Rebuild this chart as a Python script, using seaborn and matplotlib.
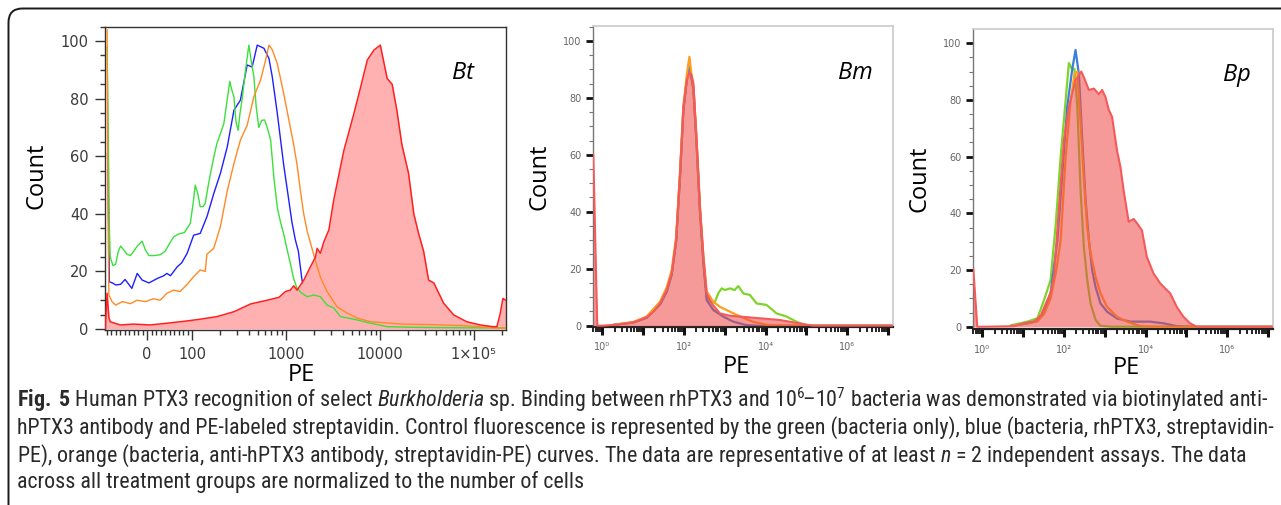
import numpy as np
import matplotlib
matplotlib.use("Agg")
import matplotlib.pyplot as plt
import seaborn as sns
from matplotlib import font_manager as fm
from matplotlib.patches import FancyBboxPatch
from matplotlib.transforms import IdentityTransform
from matplotlib.ticker import FixedLocator, MultipleLocator, NullFormatter, LogLocator

# ---------------- data (PE value, count) ----------------
# Bt panel (biexponential-like axis)
bt_green_pe = [-89, -87, -84, -82, -76, -70, -64, -59, -52, -45, -37, -30, -21, -11, -4, 4, 16, 29, 40, 51,
               59, 70, 83, 96, 103, 108, 115, 122, 131, 138, 147, 157, 171, 184, 201, 218, 235, 252, 265, 279,
               293, 309, 324, 340, 371, 402, 427, 455, 482, 513, 552, 594, 644, 686, 746, 810, 876, 945, 1021, 1112,
               1206, 1312, 1466, 1680, 1978, 2323, 2735, 3220, 3800, 5290, 7960, 11950, 21900, 37300, 85000, 219000]
bt_green_count = [98, 76, 35, 25, 22, 22.5, 27, 28.8, 27.5, 26, 25.5, 27, 29, 30.5, 27.5, 25.5, 25.5, 25.8, 27, 30,
                  32, 33, 33.5, 36.7, 44, 50, 47, 42.5, 42.5, 43.6, 49, 54, 60, 64.5, 68, 71.4, 79, 86, 83, 80.7,
                  72, 69, 75, 79.5, 90, 98.6, 93, 87.6, 77, 70, 72.5, 72.6, 69, 65.6, 52, 42, 37, 33, 28, 22.8,
                  17.5, 14.1, 12.5, 11.2, 11.8, 11.2, 8.3, 7.3, 4.3, 3.4, 2, 0.8, 0.6, 0.5, 0.4, 0.4]

bt_blue_pe = [-88, -86, -84, -77, -70, -59, -49, -34, -22, -11, 4, 22, 37, 44, 52, 67, 77, 89, 104, 122,
              144, 170, 200, 237, 279, 327, 386, 436, 494, 582, 658, 714, 807, 945, 1068, 1158, 1257, 1354, 1480, 1606,
              1978, 2980, 7290, 37300, 219000]
bt_blue_count = [61, 44, 16.4, 16, 15.3, 15.5, 17.2, 14.1, 19.3, 17, 16, 17.5, 18.5, 19.3, 18.5, 21.6, 23, 26.3, 32.6, 33.2,
                 39, 47, 54, 63.3, 76, 79.5, 91.7, 91, 98.6, 97.5, 94, 87.6, 75, 57, 45, 37, 31, 27, 17, 12,
                 7, 3.5, 1.5, 0.7, 0.5]

bt_orange_pe = [-89, -87, -85, -78, -70, -55, -37, -22, -4, 14, 29, 44, 59, 73, 89, 104, 122, 138, 144, 170,
                200, 237, 279, 327, 386, 455, 536, 607, 658, 714, 807, 945, 1112, 1208, 1312, 1424, 1543, 1680, 1978, 2323,
                2735, 3500, 4475, 5730, 7960, 17500, 37400, 84200, 176000, 219000]
bt_orange_count = [104, 40, 11.8, 9.5, 8.3, 9.5, 8.8, 10, 9.5, 10.5, 10, 12.4, 13.5, 13, 15.5, 18.2, 20.5, 20, 26, 28,
                   35.5, 48, 57.5, 65.6, 70.8, 80.7, 86.5, 93.4, 98.6, 97, 92.2, 81.8, 70, 64, 57, 48, 40, 34, 25.7, 18,
                   13, 7.7, 5.5, 3.8, 2.5, 1.7, 1.5, 1.1, 0.3, 0.3]

bt_red_pe = [-93, -89, -85, -82, -59, -30, 7, 44, 89, 122, 184, 279, 420, 632, 842, 985, 1112, 1208, 1312, 1548,
             1820, 2062, 2143, 2323, 2530, 2860, 3230, 4130, 5290, 6240, 7340, 8650, 10100, 11950, 13500, 15150, 17150,
             20200, 22950, 25900, 29200, 33000, 37500, 47600, 61000, 84200, 117000, 160000, 176000, 191000, 204000, 220000]
bt_red_count = [0, 12.4, 4, 2.5, 1.4, 1.7, 1.4, 2, 2.8, 3.4, 4.3, 6, 8.7, 10, 11, 13, 13.5, 15, 13.5, 17,
                21.6, 25, 28, 26.3, 30.3, 34.4, 45, 62, 74.9, 84.1, 93.4, 96.9, 98.6, 87, 85, 76, 64,
                54, 40, 33, 27, 17, 16, 9, 4.9, 2.5, 1.4, 0.8, 0.8, 5.4, 10.6, 10]

# Bm panel (log axis)
bm_green_pe = [1.9, 5.7, 12.2, 26, 37.8, 50, 64, 80, 96.6, 117, 136, 153, 170, 205, 247, 300, 360, 434, 560, 700,
               840, 1010, 1340, 1730, 2150, 2860, 4120, 6020, 10500, 18600, 32600, 57000, 100000, 1.3e7]
bm_green_count = [0.3, 1.1, 2.8, 7.5, 12, 18, 29.5, 52.5, 75.5, 86, 90, 86.5, 83, 63, 40, 22, 10, 8.4, 8, 11.5,
                  13.1, 12.5, 13.1, 12.5, 13.9, 11.3, 10.8, 7.8, 7.3, 4.3, 3.2, 1.4, 0, 0]
bm_blue_pe = [1.9, 5.7, 12.2, 26, 37.8, 50, 64, 80, 96.6, 117, 136, 153, 170, 205, 247, 300, 360, 523, 918, 1615,
              3425, 6000, 1.3e7]
bm_blue_count = [0.3, 1.1, 2.8, 7.5, 12, 18, 29.5, 52.5, 75.5, 86.5, 91, 87, 83.5, 63, 40, 22, 9, 5.5, 3.2, 1.4,
                 0.2, 0, 0]
bm_orange_pe = [1.9, 5.7, 12.2, 26, 37.8, 50, 64, 80, 96.6, 117, 136, 153, 170, 205, 247, 300, 360, 525, 765, 1340,
                2400, 4800, 10500, 26600, 1.3e7]
bm_orange_count = [0.3, 1.3, 3.2, 8.5, 13.5, 19.5, 31, 54, 77, 88, 94.4, 88, 84, 64, 41, 24, 12, 8.4, 6.6, 4.9,
                   3.2, 1.4, 0.3, 0, 0]
bm_red_pe = [0.6, 0.75, 1.0, 1.9, 2.7, 5.7, 8.4, 12.2, 17.8, 26, 37.8, 50, 64, 80, 96.6, 117, 136, 153, 170, 205,
             247, 300, 360, 476, 765, 1330, 2350, 7300, 22200, 68000, 146000, 1.3e7]
bm_red_count = [60, 0, 0, 0.3, 0.5, 1.2, 2, 3, 4.9, 7.8, 12.5, 18.4, 30, 53.5, 76.8, 86, 89, 88, 85, 65,
                41.8, 24.2, 11.3, 7.8, 4.3, 3.5, 3.2, 2.6, 2, 0.8, 0, 0]

# Bp panel (log axis)
bp_green_pe = [5, 12.7, 22.3, 32.5, 47, 63, 83, 110, 132, 160, 180, 212, 255, 307, 371, 448, 594, 785, 1500, 1.3e7]
bp_green_count = [0.5, 1.8, 3, 9.4, 16.5, 36.5, 60, 80, 93, 90.6, 91, 77.6, 48, 28, 16.5, 8.2, 2.4, 0.3, 0, 0]
bp_blue_pe = [5, 12.7, 22.3, 32.5, 47, 69, 91, 120, 160, 192, 232, 280, 338, 407, 490, 594, 785, 1140, 2000, 4220,
              13000, 27500, 58000, 123000, 1.3e7]
bp_blue_count = [0.3, 1.2, 2, 5, 12, 30.6, 54, 77.6, 91, 97.6, 89, 66, 44.7, 30.6, 20, 14, 8.2, 5.3, 2.9, 1.8,
                 1.8, 1.2, 0.2, 0, 0]
bp_orange_pe = [5, 12.7, 22.3, 32.5, 47, 65, 83, 110, 146, 182, 212, 255, 307, 371, 448, 594, 785, 1140, 2000, 3500,
                7400, 15000, 1.3e7]
bp_orange_count = [0.3, 1.2, 2, 4.5, 10, 20, 30.6, 60, 80, 89.4, 90, 72, 52, 35, 26, 17.6, 11.8, 7, 3.5, 1.8,
                   0.2, 0, 0]
bp_red_pe = [0.6, 0.75, 1.0, 6, 10.6, 12.7, 18.5, 27, 39, 47, 57, 75, 100, 132, 192, 265, 307, 407, 540, 714,
             860, 1040, 1250, 1510, 2000, 2410, 2900, 3850, 5110, 6170, 8120, 10700, 15600, 22800, 30200, 40000,
             58000, 84700, 123000, 179000, 1.3e7]
bp_red_count = [20.5, 0, 0, 0.2, 1.2, 1.5, 1.8, 4, 9.4, 12, 18, 42, 66, 77.6, 87, 90, 88, 83.5, 84, 82,
                83.5, 81, 76.5, 74, 62, 56.5, 48, 37, 38, 36.5, 34, 24.7, 18.8, 15.3, 13.5, 11.8,
                7, 3.5, 1.2, 0, 0]

bt_xticks = [0, 100, 1000, 10000, 100000]
bt_xticklabels = ["0", "100", "1000", "10000", "1×10⁵"]
log_xticks = [1e0, 1e1, 1e2, 1e3, 1e4, 1e5, 1e6, 1e7]
log_xticklabels = ["10⁰", "", "10²", "", "10⁴", "", "10⁶", ""]
y_ticks = [0, 20, 40, 60, 80, 100]
panel_names = ["Bt", "Bm", "Bp"]

caption_lines = [
    r"$\mathbf{Fig.}$ $\mathbf{5}$ Human PTX3 recognition of select $\mathit{Burkholderia}$ sp. Binding between rhPTX3 and 10$^{6}\!$–10$^{7}$ bacteria was demonstrated via biotinylated anti-",
    "hPTX3 antibody and PE-labeled streptavidin. Control fluorescence is represented by the green (bacteria only), blue (bacteria, rhPTX3, streptavidin-",
    r"PE), orange (bacteria, anti-hPTX3 antibody, streptavidin-PE) curves. The data are representative of at least $\mathit{n}$ = 2 independent assays. The data",
    "across all treatment groups are normalized to the number of cells",
]

# ---------------- style ----------------
sns.set_theme(style="white")
avail = {f.name for f in fm.fontManager.ttflist}
cap_font = next((f for f in ["Liberation Sans Narrow", "Roboto Condensed", "Open Sans Condensed",
                             "Noto Sans", "Open Sans"] if f in avail), "DejaVu Sans")
label_font = "Open Sans" if "Open Sans" in avail else "DejaVu Sans"
plt.rcParams["font.family"] = ["DejaVu Sans"]
plt.rcParams["mathtext.fontset"] = "custom"
plt.rcParams["mathtext.rm"] = cap_font
plt.rcParams["mathtext.it"] = cap_font + ":italic"
plt.rcParams["mathtext.bf"] = cap_font + ":bold"
plt.rcParams["mathtext.default"] = "regular"

W, H = 1281, 505
fig = plt.figure(figsize=(W / 100, H / 100), dpi=100)
fig.patch.set_facecolor("white")


def add_ax(l, t, r, b):
    return fig.add_axes([l / W, 1 - b / H, (r - l) / W, (b - t) / H])


# ---------------- Bt ----------------
ax = add_ax(105.3, 26.7, 506, 330)
ax.set_xscale("symlog", linthresh=100, linscale=0.4309)
sns.lineplot(x=bt_blue_pe, y=bt_blue_count, ax=ax, color="#1f1fff", lw=1.0, estimator=None, sort=False, zorder=1.5)
ax.fill_between(bt_red_pe, bt_red_count, 0, color="#ffb0b0", lw=0, zorder=2)
sns.lineplot(x=bt_green_pe, y=bt_green_count, ax=ax, color="#3be03b", lw=1.0, estimator=None, sort=False, zorder=3)
sns.lineplot(x=bt_orange_pe, y=bt_orange_count, ax=ax, color="#ff8a24", lw=1.0, estimator=None, sort=False, zorder=3)
sns.lineplot(x=bt_red_pe, y=bt_red_count, ax=ax, color="#ff1f1f", lw=1.1, estimator=None, sort=False, zorder=4)
ax.set_xlim(-93, 2.2e5)
ax.set_ylim(-0.35, 105)
ax.set_yticks(y_ticks)
ax.yaxis.set_minor_locator(MultipleLocator(5))
ax.set_xticks(bt_xticks)
ax.set_xticklabels(bt_xticklabels)
bt_minor = ([-90, -80, -70, -60, -50, -40, -30, -20, -10, 10, 20, 30, 40, 50, 60, 70, 80, 90]
            + [m * d for d in (100, 1000, 10000) for m in range(2, 10)] + [200000])
ax.xaxis.set_minor_locator(FixedLocator(bt_minor))
ax.xaxis.set_minor_formatter(NullFormatter())
ax.tick_params(axis="both", which="major", direction="out", length=7, width=1, color="#333333",
               labelsize=10.5, labelcolor="#3a3a3a", pad=5, left=True, bottom=True)
ax.tick_params(axis="both", which="minor", direction="out", length=3.5, width=1, color="#333333",
               left=True, bottom=True)
for s in ax.spines.values():
    s.set_color("#333333")
    s.set_linewidth(1.0)
ax.set_ylabel("Count", fontsize=17, family=label_font, va="center", ha="center", color="black")
ax.yaxis.set_label_coords(-0.172, 0.508)
ax.set_xlabel("PE", fontsize=17, family=label_font, va="center", ha="center", color="black")
ax.xaxis.set_label_coords(0.488, -0.148)
ax.text(0.893, 0.847, panel_names[0], transform=ax.transAxes, fontsize=17, family=label_font,
        style="italic", ha="center", va="center", color="black")


# ---------------- Bm / Bp ----------------
def log_panel(box, ylim, green, blue, orange, red, name, name_pos, ylab_pos, xlab_pos):
    ax = add_ax(*box)
    ax.set_xscale("log")
    for (xs, ys), col in zip([green, blue, orange], ["#7fd42a", "#3a7fd8", "#ff9d1f"]):
        sns.lineplot(x=xs, y=ys, ax=ax, color=col, lw=1.6, estimator=None, sort=False, zorder=2)
    ax.fill_between(red[0], red[1], 0, color="#f04646", alpha=0.55, lw=0, zorder=3)
    sns.lineplot(x=red[0], y=red[1], ax=ax, color="#f45a5a", lw=1.5, estimator=None, sort=False, zorder=4)
    ax.set_xlim(0.58, 1.3e7)
    ax.set_ylim(*ylim)
    ax.set_yticks(y_ticks)
    ax.yaxis.set_minor_locator(MultipleLocator(5))
    ax.xaxis.set_major_locator(FixedLocator(log_xticks))
    ax.set_xticklabels(log_xticklabels)
    ax.xaxis.set_minor_locator(LogLocator(base=10, subs=(2, 3, 4, 5, 6, 7, 8, 9), numticks=100))
    ax.xaxis.set_minor_formatter(NullFormatter())
    ax.tick_params(axis="y", which="major", direction="out", length=5, width=2, color="#111111",
                   labelsize=7, labelcolor="#666666", pad=3, left=True)
    ax.tick_params(axis="y", which="minor", direction="out", length=3, width=0.8, color="#777777", left=True)
    ax.tick_params(axis="x", which="major", direction="out", length=6, width=2.2, color="#111111",
                   labelsize=7, labelcolor="#666666", pad=5, bottom=True)
    ax.tick_params(axis="x", which="minor", direction="out", length=3.5, width=1.3, color="#111111", bottom=True)
    ax.spines["top"].set_color("#cccccc")
    ax.spines["right"].set_color("#cccccc")
    ax.spines["left"].set_color("#777777")
    ax.spines["bottom"].set_color("#222222")
    ax.spines["bottom"].set_linewidth(1.6)
    ax.spines["left"].set_linewidth(1.0)
    ax.set_ylabel("Count", fontsize=17, family=label_font, va="center", ha="center", color="black")
    ax.yaxis.set_label_coords(*ylab_pos)
    ax.set_xlabel("PE", fontsize=17, family=label_font, va="center", ha="center", color="black")
    ax.xaxis.set_label_coords(*xlab_pos)
    ax.text(*name_pos, name, transform=ax.transAxes, fontsize=17, family=label_font,
            style="italic", ha="center", va="center", color="black")
    return ax


log_panel((592.7, 26, 892.7, 327), (-0.46, 105.2),
          (bm_green_pe, bm_green_count), (bm_blue_pe, bm_blue_count), (bm_orange_pe, bm_orange_count),
          (bm_red_pe, bm_red_count), panel_names[1], (0.874, 0.844), (-0.176, 0.498), (0.48, -0.132))
log_panel((972.7, 29.3, 1272.7, 329.3), (-0.9, 104.9),
          (bp_green_pe, bp_green_count), (bp_blue_pe, bp_blue_count), (bp_orange_pe, bp_orange_count),
          (bp_red_pe, bp_red_count), panel_names[2], (0.881, 0.848), (-0.178, 0.501), (0.513, -0.13))

# ---------------- caption ----------------
line_y = [400, 428, 456, 482]
texts = []
for s, yy in zip(caption_lines, line_y):
    t = fig.text(17 / W, 1 - yy / H, s, fontsize=12, family=cap_font, color="#2a2a2a",
                 ha="left", va="center")
    texts.append(t)
fig.canvas.draw()
r = fig.canvas.get_renderer()
w1 = texts[0].get_window_extent(r).width
fs = 12 * 1251 / w1
for t in texts:
    t.set_fontsize(fs)

# ---------------- rounded frame ----------------
frame = FancyBboxPatch((8.5, -40), 1330, H - 8.5 + 40, boxstyle="round,pad=0,rounding_size=14",
                       transform=IdentityTransform(), fill=False, ec="#1a1a1a", lw=1.4, clip_on=False)
fig.add_artist(frame)

fig.savefig("out.png", dpi=100, facecolor="white")
